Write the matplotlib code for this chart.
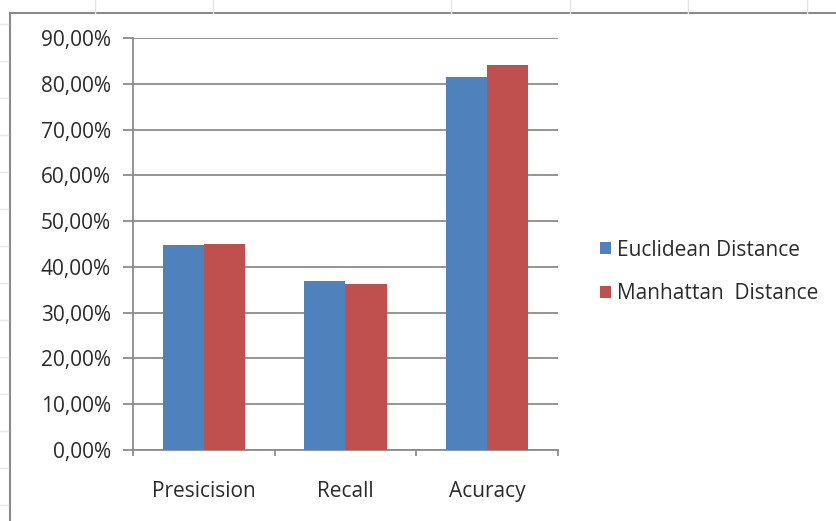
import matplotlib
matplotlib.use("Agg")
import matplotlib.pyplot as plt
from matplotlib.patches import Patch
from matplotlib.lines import Line2D
from matplotlib.ticker import FuncFormatter, FixedLocator
import numpy as np

categories = ["Presicision", "Recall", "Acuracy"]
euclidean = [44.8, 36.9, 81.5]
manhattan = [45.1, 36.2, 84.0]
series_names = ["Euclidean Distance", "Manhattan  Distance"]
y_ticks = [0, 10, 20, 30, 40, 50, 60, 70, 80, 90]

BLUE = "#4F81BD"
RED = "#C0504D"
GRID = "#8C8C8C"
TEXT = "#2b2b2b"
FONT = ["Open Sans", "DejaVu Sans"]
FS = 15

plt.rcParams["font.family"] = FONT

W, H = 837, 521
fig = plt.figure(figsize=(W / 100, H / 100), dpi=100)
fig.patch.set_facecolor("white")

# plot area in pixel coordinates
left_px, right_px, top_px, bottom_px = 133, 558, 38, 450
ax = fig.add_axes([left_px / W, 1 - bottom_px / H,
                   (right_px - left_px) / W, (bottom_px - top_px) / H])

x = np.arange(len(categories))
bw = 0.29
ax.bar(x - bw / 2, euclidean, width=bw, color=BLUE, zorder=3)
ax.bar(x + bw / 2, manhattan, width=bw, color=RED, zorder=3)

ax.set_xlim(-0.5, len(categories) - 0.5)
ax.set_ylim(0, 90)

ax.yaxis.set_major_locator(FixedLocator(y_ticks))
ax.yaxis.set_major_formatter(FuncFormatter(lambda v, p: f"{v:.2f}%".replace(".", ",")))
ax.yaxis.grid(True, color=GRID, linewidth=1.3, zorder=0)
ax.tick_params(axis="y", length=7, width=1.3, color=GRID, pad=9,
               labelsize=FS, labelcolor=TEXT)

ax.set_xticks(x)
ax.set_xticklabels(categories)
ax.set_xticks(np.arange(len(categories) + 1) - 0.5, minor=True)
ax.tick_params(axis="x", which="major", length=0, pad=22,
               labelsize=FS, labelcolor=TEXT)
ax.tick_params(axis="x", which="minor", length=4, width=1.3, color=GRID)

for side in ("top", "right"):
    ax.spines[side].set_visible(False)
for side in ("left", "bottom"):
    ax.spines[side].set_color(GRID)
    ax.spines[side].set_linewidth(1.3)

handles = [Patch(facecolor=BLUE, edgecolor="none"),
           Patch(facecolor=RED, edgecolor="none")]
fig.legend(handles, series_names, loc="center left",
           bbox_to_anchor=(581 / W, 1 - 272 / H), frameon=False,
           fontsize=FS, handlelength=0.55, handleheight=0.55,
           handletextpad=0.3, labelspacing=1.1, labelcolor=TEXT)

# chart frame (extends past the right and bottom edges)
frame = dict(color="#8a8a8a", linewidth=1.5, transform=None)
fig.add_artist(Line2D([10, 10], [0, H - 13], **frame))
fig.add_artist(Line2D([10, W], [H - 13, H - 13], **frame))

# faint sheet cell boundaries around the chart
for cx in [95, 213, 451, 570, 688, 807]:
    fig.add_artist(Line2D([cx, cx], [H - 13, H], color="#e4e4e4",
                          linewidth=1, transform=None))
for ry in np.arange(24, 521, 37):
    fig.add_artist(Line2D([0, 8], [H - ry, H - ry], color="#e8e8e8",
                          linewidth=1, transform=None))

fig.savefig("out.png", dpi=100, facecolor="white")
